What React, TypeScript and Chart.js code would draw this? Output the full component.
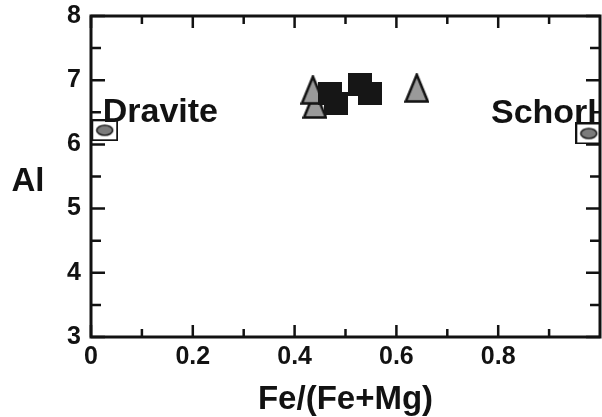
import { useEffect, useRef } from 'react';
import { Chart, registerables } from 'chart.js';

Chart.register(...registerables);

// ---- data ----
const triangleX = [0.44, 0.436, 0.64];
const triangleY = [6.63, 6.85, 6.88];
const squareX = [0.47, 0.481, 0.528, 0.548];
const squareY = [6.79, 6.64, 6.93, 6.79];
const endMemberNames = ['Dravite', 'Schorl'];
const endMemberX = [0.027, 0.978];
const endMemberY = [6.22, 6.17];
const xTickValues = [0, 0.2, 0.4, 0.6, 0.8];
const xTickLabels = ['0', '0.2', '0.4', '0.6', '0.8'];
const xMinorTicks = [0.1, 0.3, 0.5, 0.7, 0.9];
const yTickValues = [3, 4, 5, 6, 7, 8];
const yTickLabels = ['3', '4', '5', '6', '7', '8'];
const yMinorTicks = [3.5, 4.5, 5.5, 6.5, 7.5];
const xTitle = 'Fe/(Fe+Mg)';
const yTitle = 'Al';

const FONT = '"Liberation Sans", Arial, sans-serif';
const INK = '#121212';

function makeTriangle(): HTMLCanvasElement {
  const c = document.createElement('canvas');
  c.width = 25; c.height = 30;
  const g = c.getContext('2d')!;
  g.beginPath();
  g.moveTo(12.5, 1.8);
  g.lineTo(1.5, 28.5);
  g.lineTo(23.5, 28.5);
  g.closePath();
  g.fillStyle = '#9a9a9a';
  g.fill();
  g.lineWidth = 2.6;
  g.lineJoin = 'miter';
  g.strokeStyle = INK;
  g.stroke();
  return c;
}

function makeSquare(): HTMLCanvasElement {
  const c = document.createElement('canvas');
  c.width = 24; c.height = 23;
  const g = c.getContext('2d')!;
  g.fillStyle = '#161616';
  g.fillRect(0, 0, 24, 23);
  return c;
}

function makeBoxedEllipse(): HTMLCanvasElement {
  const c = document.createElement('canvas');
  c.width = 27; c.height = 22;
  const g = c.getContext('2d')!;
  g.fillStyle = '#ffffff';
  g.fillRect(1, 1, 25, 20);
  g.strokeStyle = INK;
  g.lineWidth = 2;
  g.strokeRect(1, 1, 25, 20);
  g.beginPath();
  g.ellipse(13.5, 11, 8, 5, 0, 0, Math.PI * 2);
  g.fillStyle = '#7b7b7b';
  g.fill();
  g.lineWidth = 1.6;
  g.strokeStyle = '#222';
  g.stroke();
  return c;
}

const decorPlugin = {
  id: 'decor',
  afterDraw(chart: any) {
    const { ctx, chartArea: a, scales } = chart;
    const x = scales.x;
    const y = scales.y;
    ctx.save();
    ctx.strokeStyle = INK;
    ctx.lineWidth = 3;
    ctx.strokeRect(a.left, a.top, a.right - a.left, a.bottom - a.top);

    const xTick = (v: number, len: number) => {
      const px = x.getPixelForValue(v);
      ctx.beginPath();
      ctx.moveTo(px, a.bottom);
      ctx.lineTo(px, a.bottom - len);
      ctx.moveTo(px, a.top);
      ctx.lineTo(px, a.top + len);
      ctx.stroke();
    };
    const yTick = (v: number, len: number) => {
      const py = y.getPixelForValue(v);
      ctx.beginPath();
      ctx.moveTo(a.left, py);
      ctx.lineTo(a.left + len, py);
      ctx.moveTo(a.right, py);
      ctx.lineTo(a.right - len, py);
      ctx.stroke();
    };
    ctx.lineWidth = 2.5;
    xTickValues.forEach((v) => xTick(v, 12));
    xMinorTicks.forEach((v) => xTick(v, 8));
    yTickValues.forEach((v) => yTick(v, 14));
    yMinorTicks.forEach((v) => yTick(v, 10));

    // end-member names
    ctx.fillStyle = INK;
    ctx.font = `bold 34px ${FONT}`;
    ctx.textBaseline = 'alphabetic';
    endMemberNames.forEach((name, i) => {
      const px = x.getPixelForValue(endMemberX[i]);
      const py = y.getPixelForValue(endMemberY[i]);
      if (i === 0) {
        ctx.textAlign = 'left';
        ctx.fillText(name, px - 2, py - 8);
      } else {
        ctx.textAlign = 'right';
        ctx.fillText(name, px + 8, py - 10);
      }
    });

    // y title (horizontal)
    ctx.font = `bold 33px ${FONT}`;
    ctx.textAlign = 'center';
    ctx.textBaseline = 'middle';
    ctx.fillText(yTitle, a.left - 63, (a.top + a.bottom) / 2 + 5);
    ctx.restore();
  },
};

export default function App() {
  const ref = useRef<HTMLCanvasElement | null>(null);

  useEffect(() => {
    if (!ref.current) return;
    const tri = makeTriangle();
    const sq = makeSquare();
    const box = makeBoxedEllipse();

    const chart = new Chart(ref.current, {
      type: 'scatter',
      data: {
        datasets: [
          {
            label: 'squares',
            data: squareX.map((v, i) => ({ x: v, y: squareY[i] })),
            pointStyle: sq as any,
            pointRadius: 12,
            order: 1,
          },
          {
            label: 'triangles',
            data: triangleX.map((v, i) => ({ x: v, y: triangleY[i] })),
            pointStyle: tri as any,
            pointRadius: 12,
            order: 2,
          },
          {
            label: 'end members',
            data: endMemberX.map((v, i) => ({ x: v, y: endMemberY[i] })),
            pointStyle: box as any,
            pointRadius: 12,
            order: 3,
            clip: { left: 10, top: 10, right: 0, bottom: 10 } as any,
          },
        ],
      },
      options: {
        animation: false,
        responsive: false,
        devicePixelRatio: 1,
        layout: { autoPadding: false, padding: { top: 16, right: 2, left: 0, bottom: 0 } },
        plugins: { legend: { display: false }, tooltip: { enabled: false } },
        scales: {
          x: {
            type: 'linear',
            min: 0,
            max: 1,
            afterBuildTicks: (s: any) => {
              s.ticks = xTickValues.map((v) => ({ value: v }));
            },
            afterFit: (s: any) => {
              s.height = 80;
              s.paddingLeft = 0;
              s.paddingRight = 0;
            },
            grid: { display: false, drawTicks: false },
            border: { display: false },
            ticks: {
              padding: 5,
              color: INK,
              font: { family: FONT, size: 25, weight: 'bold' },
              maxRotation: 0,
              callback: (_v: any, i: number) => xTickLabels[i],
            },
            title: {
              display: true,
              text: xTitle,
              color: INK,
              font: { family: FONT, size: 33, weight: 'bold', lineHeight: 1 },
              padding: { top: 0, bottom: 1 },
            },
          },
          y: {
            type: 'linear',
            min: 3,
            max: 8,
            afterBuildTicks: (s: any) => {
              s.ticks = yTickValues.map((v) => ({ value: v }));
            },
            afterFit: (s: any) => {
              s.width = 91;
              s.paddingTop = 0;
              s.paddingBottom = 0;
            },
            grid: { display: false, drawTicks: false },
            border: { display: false },
            ticks: {
              padding: 10,
              color: INK,
              font: { family: FONT, size: 25, weight: 'bold' },
              callback: (_v: any, i: number) => yTickLabels[i],
            },
          },
        },
      },
      plugins: [decorPlugin],
    });
    return () => chart.destroy();
  }, []);

  return (
    <div style={{ position: 'absolute', left: 0, top: 0, width: 602, height: 417, background: '#fff' }}>
      <canvas ref={ref} width={602} height={417} style={{ display: 'block' }} />
    </div>
  );
}
